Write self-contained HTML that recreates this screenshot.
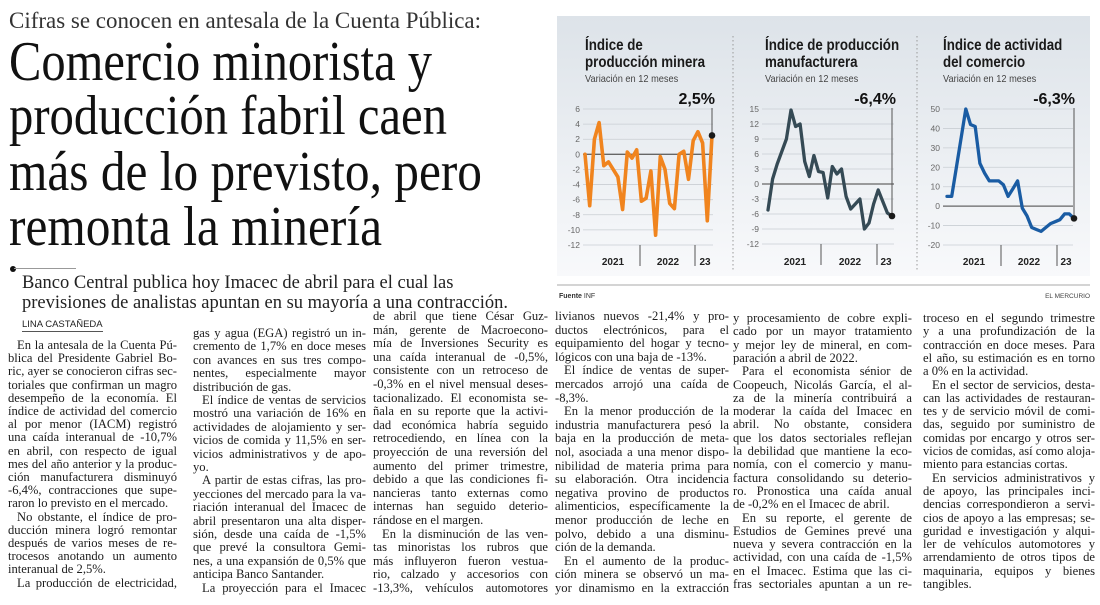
<!DOCTYPE html>
<html><head><meta charset="utf-8"><style>
html,body{margin:0;padding:0;background:#fff;}
#page{position:relative;width:1100px;height:605px;overflow:hidden;background:#fff;font-family:"Liberation Serif",serif;color:#1c1c1c;}
.abs{position:absolute;white-space:nowrap;}
.hl{font-family:"Liberation Serif",serif;font-size:56px;line-height:56px;color:#111;transform-origin:left top;}
.ln{position:absolute;height:14px;font-size:12.6px;line-height:14px;white-space:nowrap;}
.ln span{display:inline-block;transform-origin:left center;}
svg text{font-family:"Liberation Sans",sans-serif;}
</style></head><body>
<div id="page">
<div class="abs" id="kicker" style="left:9px;top:8px;font-size:23.5px;color:#333;transform-origin:left top;">Cifras se conocen en antesala de la Cuenta Pública:</div>
<div class="abs hl" data-w="423" style="left:9px;top:34px;">Comercio minorista y</div>
<div class="abs hl" data-w="438" style="left:9px;top:88px;">producción fabril caen</div>
<div class="abs hl" data-w="473" style="left:9px;top:144px;">más de lo previsto, pero</div>
<div class="abs hl" data-w="373" style="left:9px;top:199px;">remonta la minería</div>
<div class="abs" style="left:10px;top:266px;width:6px;height:6px;border-radius:3px;background:#111;"></div>
<div class="abs" style="left:14px;top:268px;width:62px;height:1px;background:#999;"></div>
<div class="abs" style="left:22px;top:274px;font-size:18.5px;line-height:19.5px;color:#222;">Banco Central publica hoy Imacec de abril para el cual las<br>previsiones de analistas apuntan en su mayoría a una contracción.</div>
<div class="abs" style="left:22px;top:319px;font-family:'Liberation Sans',sans-serif;font-size:9.5px;color:#222;border-bottom:1px solid #555;padding-bottom:1px;">LINA CASTAÑEDA</div>
<div id="body"></div>

<svg id="charts" width="1100" height="605" style="position:absolute;left:0;top:0;">
<defs><linearGradient id="bg" x1="0" y1="0" x2="0" y2="1"><stop offset="0" stop-color="#dde3e9"/><stop offset="1" stop-color="#f8f9fb"/></linearGradient></defs>
<rect x="557" y="16" width="533" height="260" fill="url(#bg)"/>
<line x1="733" y1="36" x2="733" y2="270" stroke="#999" stroke-dasharray="1.5,2.5"/>
<line x1="917" y1="36" x2="917" y2="270" stroke="#999" stroke-dasharray="1.5,2.5"/>
<line x1="557" y1="285" x2="1090" y2="285" stroke="#d4d4d4" stroke-width="2"/>
<text x="559" y="298" font-size="7" font-weight="bold" fill="#333">Fuente <tspan font-weight="normal">INF</tspan></text>
<text x="1090" y="298" font-size="6.5" fill="#444" text-anchor="end">EL MERCURIO</text>
<g id="chartlayer"></g>
</svg>
</div>
<script>
// ---------- chart data ----------
const yearLabels = ["2021","2022","23"];
const mineraValues = [0,-6.8,2,4.2,-1.5,-1,-2,-3,-7.3,0.3,-0.5,0.6,-6.2,-5.8,-2.2,-10.7,-0.3,-2,-6.5,-7.2,0,0.4,-3.3,1.8,3,1.5,-8.8,2.5];
const mineraTicks = [6,4,2,0,-2,-4,-6,-8,-10,-12];
const manufValues = [-5.2,1,4,6.5,9,14.8,11.5,12,4.5,1.5,5.7,2.5,2.3,-2.8,3.5,2,3,-2.5,-5,-4,-3,-9,-7.8,-4,-1.2,-3.5,-5.8,-6.4];
const manufTicks = [15,12,9,6,3,0,-3,-6,-9,-12];
const comercioValues = [5,5,20,35,50,42,41,22,17,13,13,13,11,5,9,13,-1,-5,-11,-12,-13,-11,-9,-8,-7,-4,-4,-6.3];
const comercioTicks = [50,40,30,20,10,0,-10,-20];
const chartTitles = [["Índice de","producción minera"],["Índice de producción","manufacturera"],["Índice de actividad","del comercio"]];
const chartLastLabels = ["2,5%","-6,4%","-6,3%"];

const NS="http://www.w3.org/2000/svg";
const layer=document.getElementById('chartlayer');
function mk(tag,attrs,parent){const e=document.createElementNS(NS,tag);for(const k in attrs)e.setAttribute(k,attrs[k]);(parent||layer).appendChild(e);return e;}
function squeeze(t,f){const L=t.getComputedTextLength();t.setAttribute('textLength',(L*f).toFixed(1));t.setAttribute('lengthAdjust','spacingAndGlyphs');}

function drawChart(idx,values,ticks,cfg){
  const g=mk('g',{});
  
  
  const tmax=ticks[0],tmin=ticks[ticks.length-1];
  const y=v=>cfg.yTop+(tmax-v)/(tmax-tmin)*(cfg.yBot-cfg.yTop);
  const x=i=>cfg.x0+i*(cfg.x1-cfg.x0)/(values.length-1);
  const t1=mk('text',{x:cfg.tx,y:50,'font-size':15.5,'font-weight':'bold',fill:'#1a1a1a'},g);
  t1.textContent=chartTitles[idx][0];
  
  
  squeeze(t1,0.86);
  const t2=mk('text',{x:cfg.tx,y:67,'font-size':15.5,'font-weight':'bold',fill:'#1a1a1a'},g);
  t2.textContent=chartTitles[idx][1];
  
  
  squeeze(t2,0.86);
  const st=mk('text',{x:cfg.tx,y:82,'font-size':10.5,fill:'#444'},g);
  st.textContent="Variación en 12 meses";
  
  
  squeeze(st,0.88);
  ticks.forEach(t=>{
    const l=mk('line',{x1:cfg.gx0,x2:cfg.gx1,y1:y(t),y2:y(t),stroke:t===0?'#666':'#c9ced3','stroke-width':t===0?1.3:0.8},g);
    
    
    const tl=mk('text',{x:cfg.gx0-3,y:y(t)+3,'font-size':8.5,fill:'#666','text-anchor':'end'},g);
    tl.textContent=t;
    
    
  });
  cfg.dividers.forEach(d=>{
    const l=mk('line',{x1:d,x2:d,y1:cfg.yBot,y2:cfg.yBot+21,stroke:'#555','stroke-width':1},g);
    
    
  });
  yearLabels.forEach((yl,i)=>{
    const t=mk('text',{x:cfg.yearX[i],y:265,'font-size':10,'font-weight':'bold',fill:'#222','text-anchor':'middle'},g);
    t.textContent=yl;
    
    
  });
  const n=values.length-1;
  const vl=mk('line',{x1:x(n),x2:x(n),y1:108,y2:y(values[n]),stroke:'#555','stroke-width':1},g);
  
  
  const pts=values.map((v,i)=>x(i).toFixed(1)+','+y(v).toFixed(1)).join(' ');
  const pl=mk('polyline',{points:pts,fill:'none',stroke:cfg.color,'stroke-width':cfg.sw,'stroke-linejoin':'round','stroke-linecap':'round'},g);
  
  
  const dot=mk('circle',{cx:x(n),cy:y(values[n]),r:3.3,fill:'#1a1a1a'},g);
  
  
  const lv=mk('text',{x:cfg.gx1+2,y:104,'font-size':16,'font-weight':'bold',fill:'#111','text-anchor':'end'},g);
  lv.textContent=chartLastLabels[idx];
  
  
}
drawChart(0,mineraValues,mineraTicks,{key:'mineria',tx:585,x0:585,x1:712,gx0:583,gx1:713,yTop:109,yBot:245,dividers:[640,695],yearX:[613,668,705],color:'#f0841e',sw:3.6});
drawChart(1,manufValues,manufTicks,{key:'manufactura',tx:765,x0:768,x1:892,gx0:762,gx1:894,yTop:109,yBot:244,dividers:[821,877],yearX:[795,850,886],color:'#354a55',sw:3.3});
drawChart(2,comercioValues,comercioTicks,{key:'comercio',tx:943,x0:947,x1:1074,gx0:943,gx1:1073,yTop:109,yBot:245,dividers:[1001,1057],yearX:[974,1029,1066],color:'#1a5ca3',sw:3.3});

// ---------- article text ----------
const cols=[
 {l:8,r:177,top:345,lh:13.2,lines:["^En la antesala de la Cuenta Pú-","blica del Presidente Gabriel Bo-","ric, ayer se conocieron cifras sec-","toriales que confirman un magro","desempeño de la economía. El","índice de actividad del comercio","al por menor (IACM) registró","una caída interanual de -10,7%","en abril, con respecto de igual","mes del año anterior y la produc-","ción manufacturera disminuyó","-6,4%, contracciones que supe-","raron lo previsto en el mercado.|","^No obstante, el índice de pro-","ducción minera logró remontar","después de varios meses de re-","trocesos anotando un aumento","interanual de 2,5%.|","^La producción de electricidad,"]},
 {l:193,r:366,top:333,lh:13.4,lines:["gas y agua (EGA) registró un in-","cremento de 1,7% en doce meses","con avances en sus tres compo-","nentes, especialmente mayor","distribución de gas.|","^El índice de ventas de servicios","mostró una variación de 16% en","actividades de alojamiento y ser-","vicios de comida y 11,5% en ser-","vicios administrativos y de apo-","yo.|","^A partir de estas cifras, las pro-","yecciones del mercado para la va-","riación interanual del Imacec de","abril presentaron una alta disper-","sión, desde una caída de -1,5%","que prevé la consultora Gemi-","nes, a una expansión de 0,5% que","anticipa Banco Santander.|","^La proyección para el Imacec"]},
 {l:373,r:548,top:316,lh:13.6,lines:["de abril que tiene César Guz-","mán, gerente de Macroecono-","mía de Inversiones Security es","una caída interanual de -0,5%,","consistente con un retroceso de","-0,3% en el nivel mensual deses-","tacionalizado. El economista se-","ñala en su reporte que la activi-","dad económica habría seguido","retrocediendo, en línea con la","proyección de una reversión del","aumento del primer trimestre,","debido a que las condiciones fi-","nancieras tanto externas como","internas han seguido deterio-","rándose en el margen.|","^En la disminución de las ven-","tas minoristas los rubros que","más influyeron fueron vestua-","rio, calzado y accesorios con","-13,3%, vehículos automotores"]},
 {l:555,r:729,top:316,lh:13.6,lines:["livianos nuevos -21,4% y pro-","ductos electrónicos, para el","equipamiento del hogar y tecno-","lógicos con una baja de -13%.|","^El índice de ventas de super-","mercados arrojó una caída de","-8,3%.|","^En la menor producción de la","industria manufacturera pesó la","baja en la producción de meta-","nol, asociada a una menor dispo-","nibilidad de materia prima para","su elaboración. Otra incidencia","negativa provino de productos","alimenticios, específicamente la","menor producción de leche en","polvo, debido a una disminu-","ción de la demanda.|","^En el aumento de la produc-","ción minera se observó un ma-","yor dinamismo en la extracción"]},
 {l:733,r:912,top:318,lh:13.3,lines:["y procesamiento de cobre expli-","cado por un mayor tratamiento","y mejor ley de mineral, en com-","paración a abril de 2022.|","^Para el economista sénior de","Coopeuch, Nicolás García, el al-","za de la minería contribuirá a","moderar la caída del Imacec en","abril. No obstante, considera","que los datos sectoriales reflejan","la debilidad que mantiene la eco-","nomía, con el comercio y manu-","factura consolidando su deterio-","ro. Pronostica una caída anual","de -0,2% en el Imacec de abril.|","^En su reporte, el gerente de","Estudios de Gemines prevé una","nueva y severa contracción en la","actividad, con una caída de -1,5%","en el Imacec. Estima que las ci-","fras sectoriales apuntan a un re-"]},
 {l:923,r:1095,top:318,lh:13.3,lines:["troceso en el segundo trimestre","y a una profundización de la","contracción en doce meses. Para","el año, su estimación es en torno","a 0% en la actividad.|","^En el sector de servicios, desta-","can las actividades de restauran-","tes y de servicio móvil de comi-","das, seguido por suministro de","comidas por encargo y otros ser-","vicios de comidas, así como aloja-","miento para estancias cortas.|","^En servicios administrativos y","de apoyo, las principales inci-","dencias correspondieron a servi-","cios de apoyo a las empresas; se-","guridad e investigación y alqui-","ler de vehículos automotores y","arrendamiento de otros tipos de","maquinaria, equipos y bienes","tangibles.|"]}
];
const body=document.getElementById('body');
cols.forEach((c,ci)=>{
  c.lines.forEach((s,i)=>{
    let indent=0,last=false;
    if(s[0]==='^'){indent=9;s=s.slice(1);}
    if(s.endsWith('|')){last=true;s=s.slice(0,-1);}
    const d=document.createElement('div');
    d.className='ln';
    
    
    d.style.left=(c.l+indent)+'px';
    d.style.top=(c.top+i*c.lh-7)+'px';
    const sp=document.createElement('span');
    sp.textContent=s;
    d.appendChild(sp);
    body.appendChild(d);
    const avail=c.r-c.l-indent;
    const w=sp.getBoundingClientRect().width;
    if(w>avail){sp.style.transform='scaleX('+(avail/w)+')';}
    else if(!last){const n=(s.match(/ /g)||[]).length;if(n>0)sp.style.wordSpacing=((avail-w)/n)+'px';}
  });
});
document.querySelectorAll('.hl').forEach(h=>{
  const w=h.getBoundingClientRect().width;const t=+h.getAttribute('data-w');
  h.style.transform='scaleX('+(t/w)+')';
});
const k=document.getElementById('kicker');
k.style.transform='scaleX('+(472/k.getBoundingClientRect().width)+')';
</script>
</body></html>
